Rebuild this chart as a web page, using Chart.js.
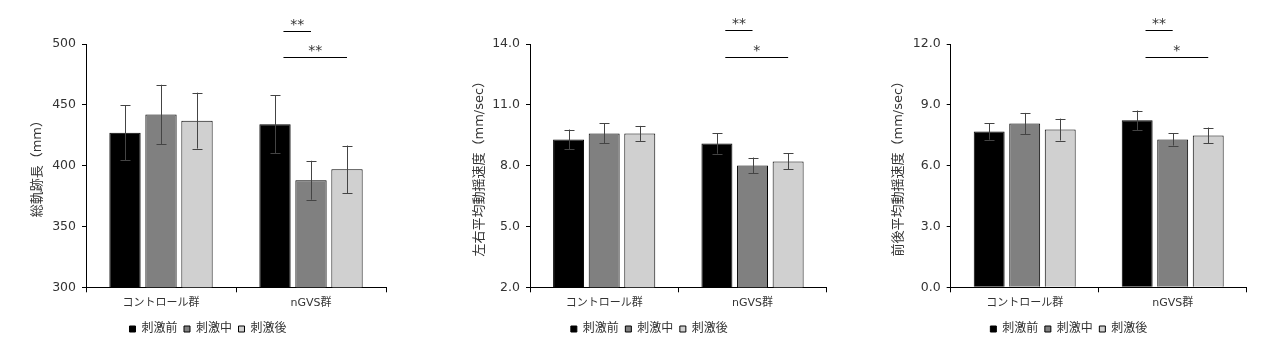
<!DOCTYPE html>
<html>
<head>
<meta charset="utf-8">
<script src="https://cdn.jsdelivr.net/npm/chart.js@4/dist/chart.umd.min.js"></script>
<style>
  html, body { margin: 0; padding: 0; background: #fff; }
  body { width: 1280px; height: 353px; position: relative; overflow: hidden; }
  .box { position: absolute; top: 0; height: 353px; }
</style>
</head>
<body>
<div class="box" style="left:0;width:430px"><canvas id="lengthChart"></canvas></div>
<div class="box" style="left:430px;width:430px"><canvas id="lrChart"></canvas></div>
<div class="box" style="left:860px;width:420px"><canvas id="apChart"></canvas></div>
<script>
const groups = ['コントロール群', 'nGVS群'];
const stimLabels = ['刺激前', '刺激中', '刺激後'];

// 総軌跡長 (mm)
const lengthPre = [427, 434];
const lengthMid = [442, 388];
const lengthPost = [437, 397];
const lengthPreErr = [22.5, 24];
const lengthMidErr = [24.5, 16];
const lengthPostErr = [23, 19.5];
const lengthTicks = [300, 350, 400, 450, 500];

// 左右平均動揺速度 (mm/sec)
const lrPre = [9.29, 9.09];
const lrMid = [9.59, 8.01];
const lrPost = [9.59, 8.21];
const lrPreErr = [0.49, 0.5];
const lrMidErr = [0.49, 0.39];
const lrPostErr = [0.37, 0.39];
const lrTicks = [2.0, 5.0, 8.0, 11.0, 14.0];

// 前後平均動揺速度 (mm/sec)
const apPre = [7.68, 8.24];
const apMid = [8.08, 7.29];
const apPost = [7.78, 7.49];
const apPreErr = [0.4, 0.48];
const apMidErr = [0.52, 0.3];
const apPostErr = [0.54, 0.39];
const apTicks = [0.0, 3.0, 6.0, 9.0, 12.0];

// significance brackets: group index, bar from/to, height in data units
const lengthSig = [{ group: 1, from: 0, to: 1, level: 511, label: '**' }, { group: 1, from: 0, to: 2, level: 489.7, label: '**' }];
const lrSig = [{ group: 1, from: 0, to: 1, level: 14.67, label: '**' }, { group: 1, from: 0, to: 2, level: 13.38, label: '*' }];
const apSig = [{ group: 1, from: 0, to: 1, level: 12.67, label: '**' }, { group: 1, from: 0, to: 2, level: 11.38, label: '*' }];

const barColors = ['#000000', '#808080', '#d0d0d0'];
const textColor = '#333333';
const fontFamily = '"DejaVu Sans", "Noto Sans CJK JP", sans-serif';

const errorBarPlugin = {
    id: 'errorBars',
    afterDatasetsDraw(chart) {
        const ctx = chart.ctx;
        const yScale = chart.scales.y;
        ctx.save();
        ctx.strokeStyle = '#444444';
        ctx.lineWidth = 1;
        chart.data.datasets.forEach((ds, i) => {
            const meta = chart.getDatasetMeta(i);
            meta.data.forEach((bar, j) => {
                const v = ds.data[j];
                const e = ds.errors[j];
                const x = Math.round(bar.x) + 0.5;
                const top = yScale.getPixelForValue(v + e);
                const bottom = yScale.getPixelForValue(v - e);
                ctx.beginPath();
                ctx.moveTo(x, top);
                ctx.lineTo(x, bottom);
                ctx.moveTo(x - 5, Math.round(top) + 0.5);
                ctx.lineTo(x + 5, Math.round(top) + 0.5);
                ctx.moveTo(x - 5, Math.round(bottom) + 0.5);
                ctx.lineTo(x + 5, Math.round(bottom) + 0.5);
                ctx.stroke();
            });
        });
        ctx.restore();
    }
};

const sigPlugin = {
    id: 'sigBrackets',
    afterDraw(chart) {
        const brackets = chart.options.plugins.sigBrackets.items || [];
        const ctx = chart.ctx;
        const yScale = chart.scales.y;
        ctx.save();
        brackets.forEach(b => {
            const fromBar = chart.getDatasetMeta(b.from).data[b.group];
            const toBar = chart.getDatasetMeta(b.to).data[b.group];
            const x1 = fromBar.x + fromBar.width * 0.27;
            const x2 = toBar.x;
            const y = Math.round(yScale.getPixelForValue(b.level)) + 0.5;
            ctx.strokeStyle = '#000';
            ctx.lineWidth = 1;
            ctx.beginPath();
            ctx.moveTo(x1, y);
            ctx.lineTo(x2, y);
            ctx.stroke();
            ctx.fillStyle = textColor;
            ctx.font = '14px ' + fontFamily;
            ctx.textAlign = 'center';
            ctx.textBaseline = 'bottom';
            ctx.fillText(b.label, (x1 + x2) / 2, y + 1);
        });
        ctx.restore();
    }
};

function makeChart(id, series, errors, ticks, decimals, title, sig, layout) {
    const ctx = document.getElementById(id).getContext('2d');
    return new Chart(ctx, {
        type: 'bar',
        data: {
            labels: groups,
            datasets: series.map((values, i) => ({
                label: stimLabels[i],
                data: values,
                errors: errors[i],
                backgroundColor: barColors[i],
                borderColor: '#000000',
                borderWidth: 1,
                categoryPercentage: 0.72,
                barPercentage: 0.87
            }))
        },
        options: {
            responsive: true,
            maintainAspectRatio: false,
            animation: false,
            devicePixelRatio: 1,
            layout: {
                padding: { left: layout.left, right: layout.right, top: 44, bottom: 8 }
            },
            plugins: {
                legend: {
                    position: 'bottom',
                    labels: {
                        boxWidth: 6,
                        boxHeight: 6,
                        padding: 6.5,
                        color: textColor,
                        font: { family: fontFamily, size: 12 }
                    }
                },
                tooltip: { enabled: false },
                sigBrackets: { items: sig }
            },
            scales: {
                x: {
                    grid: {
                        display: true,
                        drawOnChartArea: false,
                        drawTicks: true,
                        tickLength: 5,
                        color: '#000'
                    },
                    border: { color: '#000', width: 1 },
                    ticks: {
                        color: textColor,
                        padding: 4,
                        font: { family: fontFamily, size: 11 }
                    },
                    afterFit: scale => { scale.height = 29.2; }
                },
                y: {
                    min: ticks[0],
                    max: ticks[ticks.length - 1],
                    afterBuildTicks: scale => { scale.ticks = ticks.map(v => ({ value: v })); },
                    grid: {
                        display: true,
                        drawOnChartArea: false,
                        drawTicks: true,
                        tickLength: 4,
                        color: '#000'
                    },
                    border: { color: '#000', width: 1 },
                    ticks: {
                        color: textColor,
                        padding: 6,
                        font: { family: fontFamily, size: 12.5 }, 
                        callback: v => Number(v).toFixed(decimals)
                    },
                    title: {
                        display: true,
                        text: title,
                        color: textColor,
                        font: { family: fontFamily, size: 13 },
                        padding: { top: layout.titlePad, bottom: 0 }
                    },
                    afterFit: scale => { scale.width = layout.axisWidth; }
                }
            }
        },
        plugins: [errorBarPlugin, sigPlugin]
    });
}

makeChart('lengthChart',
    [lengthPre, lengthMid, lengthPost],
    [lengthPreErr, lengthMidErr, lengthPostErr],
    lengthTicks, 0, '総軌跡長（mm）', lengthSig,
    { left: 30, right: 44, axisWidth: 56, titlePad: 0 });

makeChart('lrChart',
    [lrPre, lrMid, lrPost],
    [lrPreErr, lrMidErr, lrPostErr],
    lrTicks, 1, '左右平均動揺速度（mm/sec）', lrSig,
    { left: 42, right: 33.3, axisWidth: 58, titlePad: 0 });

makeChart('apChart',
    [apPre, apMid, apPost],
    [apPreErr, apMidErr, apPostErr],
    apTicks, 1, '前後平均動揺速度（mm/sec）', apSig,
    { left: 31, right: 33.3, axisWidth: 59.7, titlePad: 0 });
</script>
</body>
</html>
